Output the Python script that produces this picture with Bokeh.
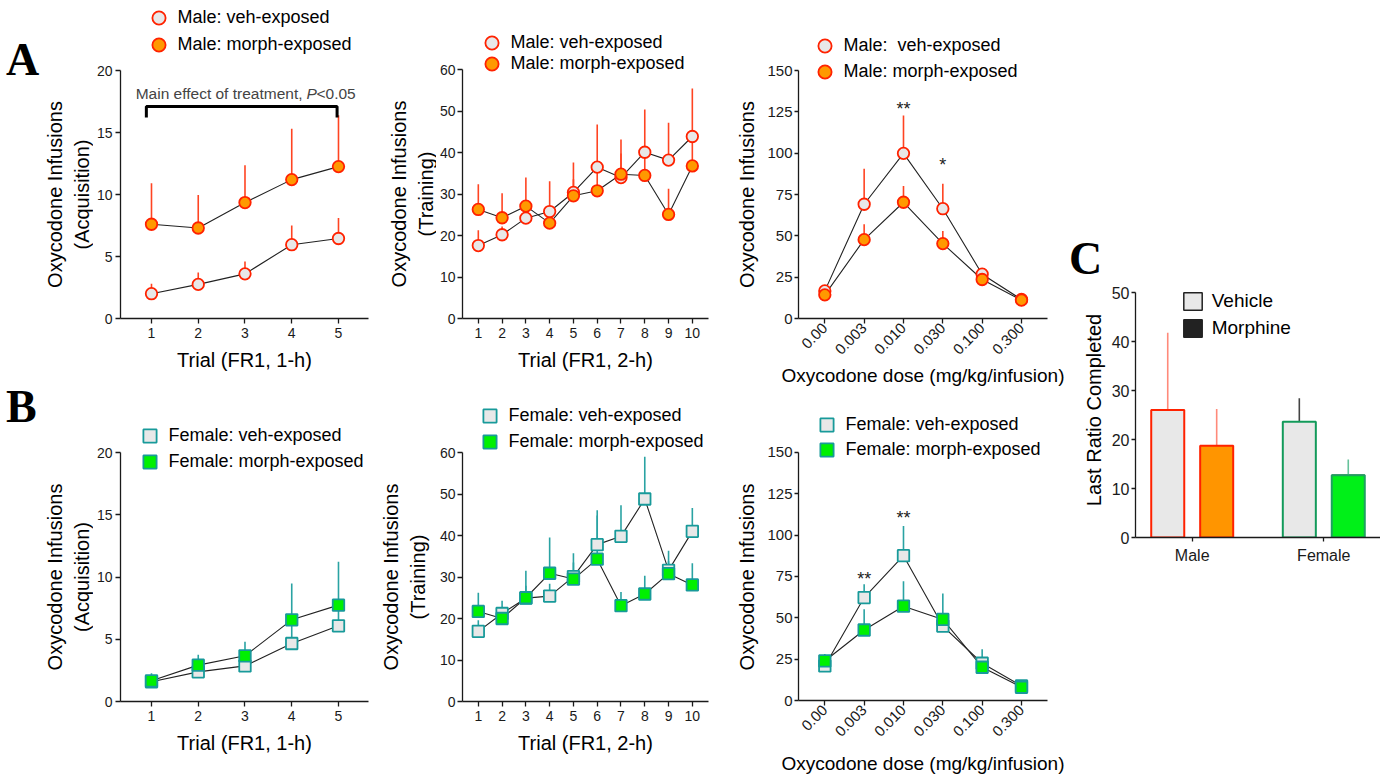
import math
import numpy as np
from bokeh.plotting import figure
from bokeh.models import (ColumnDataSource, Legend, LegendItem, Label, FixedTicker, Range1d,
                          Div, Spacer)
from bokeh.layouts import row, column
from bokeh.embed import file_html
from bokeh.resources import INLINE

FONT = "Liberation Sans"

# ------------------------------------------------------------------ data
trials_acq = [1, 2, 3, 4, 5]
trials_train = [1, 2, 3, 4, 5, 6, 7, 8, 9, 10]
doses = ["0.00", "0.003", "0.010", "0.030", "0.100", "0.300"]

male_acq_veh = [2.0, 2.75, 3.6, 5.95, 6.45]
male_acq_veh_sem = [0.8, 0.95, 1.0, 1.55, 1.65]
male_acq_morph = [7.6, 7.3, 9.35, 11.2, 12.25]
male_acq_morph_sem = [3.3, 2.65, 3.0, 4.1, 4.15]

male_train_veh = [17.6, 20.2, 24.2, 25.8, 30.4, 36.5, 34.0, 40.1, 38.2, 43.9]
male_train_veh_sem = [3.7, 2.0, 2.5, 7.3, 7.2, 10.3, 9.2, 10.3, 9.0, 11.6]
male_train_morph = [26.3, 24.3, 27.1, 23.0, 29.6, 30.8, 34.8, 34.5, 25.1, 36.8]
male_train_morph_sem = [6.1, 5.9, 6.9, 4.0, 4.0, 6.0, 5.0, 6.0, 6.2, 6.0]

male_dose_veh = [16.7, 69.1, 99.9, 66.4, 26.8, 11.5]
male_dose_veh_sem = [2.0, 21.5, 22.9, 15.1, 2.0, 1.0]
male_dose_morph = [14.3, 47.7, 70.3, 45.3, 23.6, 11.1]
male_dose_morph_sem = [2.0, 9.3, 9.8, 7.6, 2.0, 1.0]

female_acq_veh = [1.58, 2.38, 2.86, 4.66, 6.08]
female_acq_veh_sem = [0.4, 0.5, 0.6, 1.5, 1.3]
female_acq_morph = [1.66, 2.92, 3.67, 6.56, 7.74]
female_acq_morph_sem = [0.6, 0.83, 1.12, 2.92, 3.48]

female_train_veh = [16.9, 21.2, 24.9, 25.4, 30.1, 37.8, 39.8, 48.8, 31.6, 41.0]
female_train_veh_sem = [2.7, 3.1, 3.0, 3.0, 5.6, 8.3, 7.5, 10.2, 4.7, 5.6]
female_train_morph = [21.7, 20.0, 25.0, 30.9, 29.5, 34.3, 23.1, 25.9, 30.8, 28.1]
female_train_morph_sem = [4.5, 2.0, 6.5, 8.6, 4.0, 10.5, 3.3, 4.4, 3.0, 5.2]

female_dose_veh = [20.9, 62.2, 87.5, 45.0, 22.5, 8.8]
female_dose_veh_sem = [3.0, 8.1, 17.9, 5.0, 8.4, 1.0]
female_dose_morph = [23.9, 42.6, 57.0, 49.0, 20.1, 8.0]
female_dose_morph_sem = [4.2, 12.6, 15.1, 15.7, 3.0, 1.0]

male_dose_sig = ["", "", "**", "*", "", ""]
female_dose_sig = ["", "**", "**", "", "", ""]

ratio_groups = ["Male", "Female"]
ratio_vehicle = [26.0, 23.6]
ratio_vehicle_sem = [15.8, 4.8]
ratio_morphine = [18.7, 12.7]
ratio_morphine_sem = [7.5, 3.2]

# ------------------------------------------------------------------ styles
VEH_FILL = "#E8E8E8"
MALE_LINE = "#FF2200"
MALE_MORPH_FILL = "#FF9900"
MALE_ERR = "#FF4422"
FEM_LINE = "#189A9A"
FEM_MORPH_FILL = "#00F000"
FEM_ERR = "#2AA3A3"
AXIS_COLOR = "#1a1a1a"


def base_fig(w, h, bl, br, bt, bb, xr, yr, **kw):
    p = figure(width=w, height=h, min_border_left=bl, min_border_right=br,
               min_border_top=bt, min_border_bottom=bb,
               x_range=Range1d(*xr), y_range=Range1d(*yr),
               output_backend="svg", toolbar_location=None, **kw)
    p.frame_align = False
    p.title.visible = False
    p.outline_line_color = None
    p.grid.visible = False
    p.background_fill_color = "white"
    p.border_fill_color = "white"
    return p


def style_axis(ax, tick_size):
    ax.axis_line_width = 1.3
    ax.axis_line_color = AXIS_COLOR
    ax.major_tick_line_width = 1.3
    ax.major_tick_line_color = AXIS_COLOR
    ax.major_tick_in = 0
    ax.major_tick_out = 5
    ax.minor_tick_line_color = None
    ax.major_label_text_font = FONT
    ax.major_label_text_font_size = tick_size
    ax.major_label_text_color = AXIS_COLOR
    ax.axis_label_text_font = FONT
    ax.axis_label_text_font_size = "20px"
    ax.axis_label_text_font_style = "normal"
    ax.axis_label_text_color = "black"


def label_fig(w, h, bt, bb, text, standoff):
    """A narrow plot that only carries the y-axis title, centred on the data area."""
    p = base_fig(w, h, w - 2, 0, bt, bb, (0, 1), (0, 1), x_axis_location=None)
    ax = p.yaxis[0]
    style_axis(ax, "14px")
    ax.ticker = FixedTicker(ticks=[])
    ax.axis_line_color = None
    ax.major_tick_line_color = None
    ax.major_tick_out = 0
    ax.axis_label = text
    ax.axis_label_standoff = standoff
    return p


def main_fig(w, h, bl, br, bb, xr, ymax, scale, yticks, xticks, xlabel,
             tick_size="14px", xlab_standoff=8, xlab_size="20px", ytick_out=5, ylab_gap=3):
    # frame reaches the top of the figure so the legend stays inside it;
    # the y axis itself is bounded to the data range
    p = base_fig(w, h, bl, br, 0, bb, xr, (0, ymax * scale))
    for ax in (p.xaxis[0], p.yaxis[0]):
        style_axis(ax, tick_size)
    p.xaxis[0].axis_label_text_font_size = xlab_size
    p.yaxis[0].bounds = (0, ymax)
    p.yaxis[0].ticker = FixedTicker(ticks=yticks)
    p.xaxis[0].ticker = FixedTicker(ticks=xticks)
    p.yaxis[0].major_tick_out = ytick_out
    p.yaxis[0].major_label_standoff = ylab_gap
    p.xaxis[0].major_label_standoff = 4
    p.xaxis[0].axis_label = xlabel
    p.xaxis[0].axis_label_standoff = xlab_standoff
    return p


def draw_pair(p, x, veh, veh_sem, morph, morph_sem, marker, line_col, morph_fill, err_col):
    s_veh = ColumnDataSource(dict(x=x, y=veh, top=list(np.array(veh) + np.array(veh_sem))))
    s_mor = ColumnDataSource(dict(x=x, y=morph, top=list(np.array(morph) + np.array(morph_sem))))
    p.line("x", "y", source=s_veh, line_color="#222222", line_width=1.1)
    p.line("x", "y", source=s_mor, line_color="#222222", line_width=1.1)
    p.segment(x0="x", y0="y", x1="x", y1="top", source=s_veh, line_color=err_col, line_width=1.6)
    p.segment(x0="x", y0="y", x1="x", y1="top", source=s_mor, line_color=err_col, line_width=1.6)
    r_veh = p.scatter("x", "y", source=s_veh, marker=marker, size=11.5,
                      fill_color=VEH_FILL, line_color=line_col, line_width=1.8)
    r_mor = p.scatter("x", "y", source=s_mor, marker=marker, size=11.5,
                      fill_color=morph_fill, line_color=line_col, line_width=1.8)
    return r_veh, r_mor


def add_legend(p, entries, vx):
    # one single-item legend per row, so each row sits exactly where it should
    for label, rend, vy in entries:
        p.add_layout(Legend(items=[LegendItem(label=label, renderers=[rend])],
                            location=(vx, vy), orientation="vertical",
                            glyph_width=33, glyph_height=33, label_height=33, spacing=0,
                            label_standoff=3, padding=0, margin=0,
                            label_text_font=FONT, label_text_font_size="18px",
                            label_text_color="black",
                            border_line_color=None, background_fill_alpha=0))


def stars(p, sig, ys):
    for i, s in enumerate(sig):
        if s:
            p.add_layout(Label(x=i, y=ys[i], text=s, text_font=FONT, text_font_size="18px",
                               text_align="center", text_baseline="alphabetic",
                               text_color="#222222"))


def letter_div(txt, w, h, ml):
    return Div(text=('<div style="font-family:\'Liberation Serif\';font-size:46px;'
                     'font-weight:bold;line-height:44px;margin-left:%dpx;color:#000;">%s</div>'
                     % (ml, txt)), width=w, height=h, margin=(0, 0, 0, 0))


dose_x = list(range(len(doses)))
dose_overrides = {i: d for i, d in enumerate(doses)}
TOP_SCALE = 318.0 / 248.0      # frame height / data-area height, top row
BOT_SCALE = 311.0 / 249.0      # bottom row

# ------------------------------------------------------------------ A1
la1 = label_fig(53, 390, 70, 72, "Oxycodone Infusions\n(Acquisition)", -1)
a1 = main_fig(280, 390, 27, 5, 72, (0.337, 5.642), 20, TOP_SCALE, [0, 5, 10, 15, 20],
              trials_acq, "Trial (FR1, 1-h)")
rv, rm = draw_pair(a1, trials_acq, male_acq_veh, male_acq_veh_sem, male_acq_morph,
                   male_acq_morph_sem, "circle", MALE_LINE, MALE_MORPH_FILL, MALE_ERR)
add_legend(a1, [("Male: veh-exposed", rv, 284.5), ("Male: morph-exposed", rm, 257.5)], 21.5)
bx0, bx1 = trials_acq[0] - 0.11, trials_acq[-1] - 0.03
a1.line([bx0, bx0, bx1, bx1], [16.2, 17.1, 17.1, 16.2], line_color="black", line_width=3)
px = 4.316
a1.add_layout(Label(x=px, y=18.15, x_offset=-4, text="Main effect of treatment,", text_font=FONT,
                    text_font_size="15.5px", text_align="right", text_baseline="middle"))
a1.add_layout(Label(x=px, y=18.15, text="P", text_font=FONT, text_font_style="italic",
                    text_font_size="15.5px", text_align="left", text_baseline="middle"))
a1.add_layout(Label(x=px, y=18.15, x_offset=10, text="<0.05", text_font=FONT,
                    text_font_size="15.5px", text_align="left", text_baseline="middle"))

# ------------------------------------------------------------------ A2
la2 = label_fig(63, 390, 69, 72, "Oxycodone Infusions\n(Training)", -2)
a2 = main_fig(296, 390, 23, 24, 72, (0.335, 10.68), 60, 318.3 / 249.0,
              [0, 10, 20, 30, 40, 50, 60], trials_train, "Trial (FR1, 2-h)", ylab_gap=2)
rv, rm = draw_pair(a2, trials_train, male_train_veh, male_train_veh_sem, male_train_morph,
                   male_train_morph_sem, "circle", MALE_LINE, MALE_MORPH_FILL, MALE_ERR)
add_legend(a2, [("Male: veh-exposed", rv, 259.1), ("Male: morph-exposed", rm, 238.5)], 12.5)

# ------------------------------------------------------------------ A3
la3 = label_fig(31, 390, 70, 72, "Oxycodone Infusions", 5)
a3 = main_fig(304, 390, 35, 20, 72, (-0.669, 5.661), 150, TOP_SCALE,
              [0, 25, 50, 75, 100, 125, 150], dose_x, "Oxycodone dose (mg/kg/infusion)",
              tick_size="15px", xlab_standoff=3, xlab_size="19px", ytick_out=4, ylab_gap=2)
a3.xaxis[0].major_label_overrides = dose_overrides
a3.xaxis[0].major_label_orientation = math.pi / 4
a3.xaxis[0].major_label_standoff = 2
rv, rm = draw_pair(a3, dose_x, male_dose_veh, male_dose_veh_sem, male_dose_morph,
                   male_dose_morph_sem, "circle", MALE_LINE, MALE_MORPH_FILL, MALE_ERR)
add_legend(a3, [("Male:  veh-exposed", rv, 256.5), ("Male: morph-exposed", rm, 230.5)], 9.5)
stars(a3, male_dose_sig, [0, 0, 126.8, 93.1, 0, 0])

# ------------------------------------------------------------------ B1
lb1 = label_fig(53, 387, 62, 76, "Oxycodone Infusions\n(Acquisition)", -1)
b1 = main_fig(280, 387, 27, 5, 76, (0.337, 5.642), 20, BOT_SCALE, [0, 5, 10, 15, 20],
              trials_acq, "Trial (FR1, 1-h)")
rv, rm = draw_pair(b1, trials_acq, female_acq_veh, female_acq_veh_sem, female_acq_morph,
                   female_acq_morph_sem, "square", FEM_LINE, FEM_MORPH_FILL, FEM_ERR)
add_legend(b1, [("Female: veh-exposed", rv, 249.5), ("Female: morph-exposed", rm, 222.8)], 12.5)

# ------------------------------------------------------------------ B2
lb2 = label_fig(63, 387, 62, 76, "Oxycodone Infusions\n(Training)", 6)
b2 = main_fig(296, 387, 23, 24, 76, (0.335, 10.68), 60, BOT_SCALE,
              [0, 10, 20, 30, 40, 50, 60], trials_train, "Trial (FR1, 2-h)", ylab_gap=2)
rv, rm = draw_pair(b2, trials_train, female_train_veh, female_train_veh_sem, female_train_morph,
                   female_train_morph_sem, "square", FEM_LINE, FEM_MORPH_FILL, FEM_ERR)
add_legend(b2, [("Female: veh-exposed", rv, 269.5), ("Female: morph-exposed", rm, 242.8)], 10.5)

# ------------------------------------------------------------------ B3
lb3 = label_fig(31, 387, 62, 76, "Oxycodone Infusions", 5)
b3 = main_fig(304, 387, 35, 20, 76, (-0.669, 5.661), 150, BOT_SCALE,
              [0, 25, 50, 75, 100, 125, 150], dose_x, "Oxycodone dose (mg/kg/infusion)",
              tick_size="15px", xlab_standoff=9, xlab_size="19px", ytick_out=4, ylab_gap=2)
b3.xaxis[0].major_label_overrides = dose_overrides
b3.xaxis[0].major_label_orientation = math.pi / 4
b3.xaxis[0].major_label_standoff = 2
rv, rm = draw_pair(b3, dose_x, female_dose_veh, female_dose_veh_sem, female_dose_morph,
                   female_dose_morph_sem, "square", FEM_LINE, FEM_MORPH_FILL, FEM_ERR)
add_legend(b3, [("Female: veh-exposed", rv, 259.5), ("Female: morph-exposed", rm, 233.8)], 11.5)
stars(b3, female_dose_sig, [0, 73.6, 110.3, 0, 0, 0])

# ------------------------------------------------------------------ C
gx = np.arange(1, len(ratio_groups) + 1)
c = base_fig(313, 495, 68, 0, 0, 240, (0.569, 2.431), (0, 50 * 255.0 / 245.0))
for ax in (c.xaxis[0], c.yaxis[0]):
    style_axis(ax, "16px")
c.yaxis[0].bounds = (0, 50)
c.yaxis[0].ticker = FixedTicker(ticks=[0, 10, 20, 30, 40, 50])
c.xaxis[0].ticker = FixedTicker(ticks=list(gx))
c.yaxis[0].axis_label = "Last Ratio Completed"
c.yaxis[0].axis_label_standoff = 4
c.xaxis[0].major_label_overrides = {int(i): g for i, g in zip(gx, ratio_groups)}
c.yaxis[0].major_tick_out = 4
c.yaxis[0].major_label_standoff = 2
c.xaxis[0].major_tick_out = 4
c.xaxis[0].major_label_standoff = 5
off, bw = 0.186, 0.251
# zero-height bars under the real ones: they only provide the legend swatches
leg_v = c.vbar(x=list(gx - off), top=ratio_vehicle, bottom=ratio_vehicle, width=bw,
               fill_color="#E8E8E8", line_color="#222222", line_width=1.5)
leg_m = c.vbar(x=list(gx + off), top=ratio_morphine, bottom=ratio_morphine, width=bw,
               fill_color="#222222", line_color="#222222", line_width=1.5)
veh_src = ColumnDataSource(dict(x=list(gx - off), top=ratio_vehicle,
                                etop=list(np.array(ratio_vehicle) + np.array(ratio_vehicle_sem)),
                                fill=[VEH_FILL, VEH_FILL], line=["#FF2200", "#129A5A"],
                                err=["#FF8A7A", "#444444"]))
mor_src = ColumnDataSource(dict(x=list(gx + off), top=ratio_morphine,
                                etop=list(np.array(ratio_morphine) + np.array(ratio_morphine_sem)),
                                fill=["#FF9500", "#00F018"], line=["#FF2200", "#1EA060"],
                                err=["#FF8A7A", "#66C29A"]))
for s in (veh_src, mor_src):
    c.segment(x0="x", y0="top", x1="x", y1="etop", source=s, line_color="err", line_width=1.6)
    c.vbar(x="x", top="top", width=bw, bottom=0, source=s, fill_color="fill",
           line_color="line", line_width=2)
c.add_layout(Legend(items=[LegendItem(label="Vehicle", renderers=[leg_v]),
                           LegendItem(label="Morphine", renderers=[leg_m])],
                    location=(45.7, 198), glyph_width=23, glyph_height=22, label_height=22,
                    spacing=5, label_standoff=8, padding=0, margin=0,
                    label_text_font=FONT, label_text_font_size="19px", label_text_color="black",
                    border_line_color=None, background_fill_alpha=0))

# ------------------------------------------------------------------ layout
letters = column(Spacer(width=40, height=38), letter_div("A", 40, 44, 6),
                 Spacer(width=40, height=303), letter_div("B", 40, 44, 6))
c_col = column(Spacer(width=313, height=237), letter_div("C", 313, 45, 2), c)
top_row = row(la1, a1, la2, a2, la3, a3)
bot_row = row(lb1, b1, lb2, b2, lb3, b3)
layout = row(letters, column(top_row, bot_row), c_col)
open("out.html", "w").write(file_html(layout, INLINE))
